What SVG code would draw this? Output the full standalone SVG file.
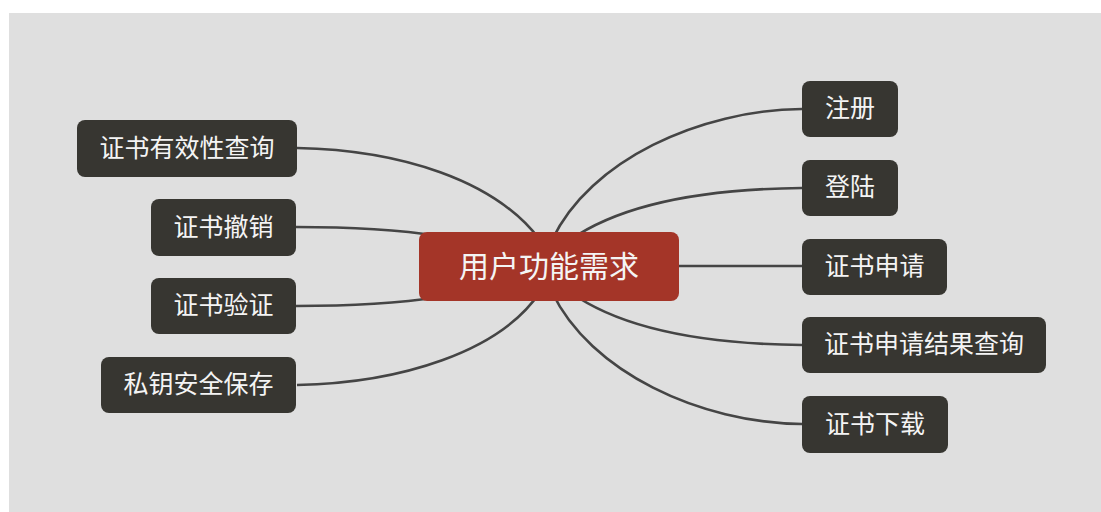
<svg xmlns="http://www.w3.org/2000/svg" width="1101" height="512" viewBox="0 0 1101 512">
<style>
.bg{fill:#dfdfdf}
.edge{fill:none;stroke:#454545;stroke-width:2.6}
.node{fill:#373631}
.root{fill:#a43528}
.t{font-family:"Noto Sans CJK SC","Noto Sans",sans-serif;font-size:25px;fill:#f4f4f4;text-anchor:middle;dominant-baseline:central}
.rt{font-size:30px}
</style>
<rect x="0" y="0" width="1101" height="512" fill="#ffffff"/>
<rect class="bg" x="9" y="13" width="1092" height="499"/>
<g id="connectors">
<path class="edge" d="M297 148 C400 150 495 180 540 240"/>
<path class="edge" d="M296 227 C360 227 400 230 440 236"/>
<path class="edge" d="M296 306 C360 306 400 303 440 297"/>
<path class="edge" d="M297 385 C400 383 500 352 540 292"/>
<path class="edge" d="M802 109 C700 110 590 160 552 240"/>
<path class="edge" d="M802 188 C700 189 620 205 570 240"/>
<path class="edge" d="M679 266 L802 266"/>
<path class="edge" d="M802 345 C700 344 620 328 570 292"/>
<path class="edge" d="M802 424 C700 423 590 372 552 292"/>
</g>
<g id="root">
<rect class="root" x="419" y="232" width="260" height="69" rx="8"/>
<text class="t rt" x="549" y="263.5">用户功能需求</text>
</g>
<g id="n-validity">
<rect class="node" x="77" y="120" width="220" height="57" rx="8"/>
<text class="t" x="187" y="145.5">证书有效性查询</text>
</g>
<g id="n-revoke">
<rect class="node" x="151" y="199" width="145" height="57" rx="8"/>
<text class="t" x="223.5" y="224.5">证书撤销</text>
</g>
<g id="n-verify">
<rect class="node" x="151" y="278" width="145" height="56" rx="8"/>
<text class="t" x="223.5" y="303">证书验证</text>
</g>
<g id="n-key">
<rect class="node" x="101" y="357" width="195" height="56" rx="8"/>
<text class="t" x="198.5" y="382">私钥安全保存</text>
</g>
<g id="n-register">
<rect class="node" x="802" y="81" width="96" height="56" rx="8"/>
<text class="t" x="850" y="106">注册</text>
</g>
<g id="n-login">
<rect class="node" x="802" y="160" width="96" height="56" rx="8"/>
<text class="t" x="850" y="185">登陆</text>
</g>
<g id="n-apply">
<rect class="node" x="802" y="239" width="145" height="56" rx="8"/>
<text class="t" x="874.5" y="264">证书申请</text>
</g>
<g id="n-result">
<rect class="node" x="802" y="317" width="244" height="56" rx="8"/>
<text class="t" x="924" y="342">证书申请结果查询</text>
</g>
<g id="n-download">
<rect class="node" x="802" y="396" width="146" height="57" rx="8"/>
<text class="t" x="875" y="421.5">证书下载</text>
</g>
</svg>
